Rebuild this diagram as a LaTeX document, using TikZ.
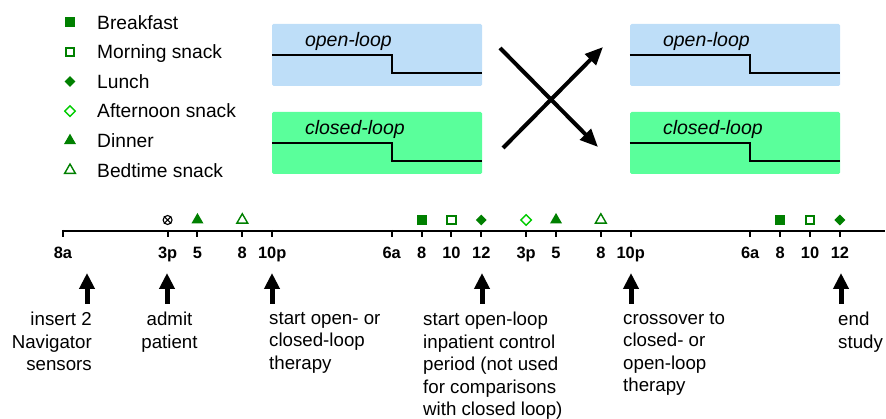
\documentclass[tikz,border=0pt]{standalone}
\usepackage{fontspec}
\setmainfont{Liberation Sans}
\usetikzlibrary{arrows.meta,positioning,shapes.geometric}
\definecolor{openblue}{RGB}{190,222,248}
\definecolor{closedgreen}{RGB}{90,255,155}
\definecolor{mealgreen}{RGB}{0,128,0}
\definecolor{snackgreen}{RGB}{0,204,0}
\tikzset{%
  % Specifications for style of nodes:
       loopbox/.style = {rectangle, rounded corners=1.5pt, minimum width=210pt,
                         minimum height=62pt, inner sep=0pt},
      openloop/.style = {loopbox, fill=openblue},
    closedloop/.style = {loopbox, fill=closedgreen},
     looplabel/.style = {anchor=west, inner sep=0pt, text height=13.8pt, text depth=0pt,
                         font=\fontsize{19.5}{22}\selectfont\itshape},
      steplevel/.style = {line width=2pt},
       legtext/.style = {anchor=west, inner sep=0pt, text height=13.7pt,
                         text depth=0pt, font=\fontsize{19.2}{22}\selectfont},
     hourlabel/.style = {inner sep=0pt, text height=11.8pt, text depth=0pt,
                         font=\fontsize{16.4}{18}\selectfont\bfseries},
      evtlabel/.style = {inner sep=0pt, font=\fontsize{18.7}{22.5}\selectfont},
  % meal markers
     breakfast/.style = {rectangle, minimum size=10pt, inner sep=0pt, fill=mealgreen},
      morningsn/.style = {rectangle, minimum size=8.5pt, inner sep=0pt,
                         draw=mealgreen, line width=2pt, fill=white},
         lunch/.style = {diamond, minimum size=11pt, inner sep=0pt, fill=mealgreen},
    afternoonsn/.style = {diamond, minimum size=11pt, inner sep=0pt,
                         draw=snackgreen, line width=1.4pt, fill=white},
        dinner/.style = {regular polygon, regular polygon sides=3, minimum size=14pt,
                         inner sep=0pt, fill=mealgreen},
      bedtimesn/.style = {regular polygon, regular polygon sides=3, minimum size=12.5pt,
                         inner sep=0pt, draw=mealgreen, line width=1.4pt, fill=white},
  crossarrow/.style = {line width=4pt, -{Triangle[width=15pt,length=18pt]}},
     uparrow/.style = {line width=5pt, -{Triangle[width=15pt,length=16pt]}},
}
\begin{document}
\begin{tikzpicture}[x=1pt, y=-1pt]
\useasboundingbox (0,0) rectangle (886,419);
% Legend of meals
\foreach \m/\t [count=\i] in {breakfast/Breakfast, morningsn/Morning snack,
    lunch/Lunch, afternoonsn/Afternoon snack, dinner/Dinner, bedtimesn/Bedtime snack}
{
  \node[\m] (leg\i) at (70,{22.3+29.6*(\i-1)}) {};
  \node[legtext] (legt\i) at (97,{22.3+29.6*(\i-1)}) {\t};
}
% Treatment periods
\node (olA) [openloop]   at (377,55)  {};
\node (clA) [closedloop] at (377,143) {};
\node (olB) [openloop]   at (735,55)  {};
\node (clB) [closedloop] at (735,143) {};
\foreach \b/\t in {olA/open-loop, clA/closed-loop, olB/open-loop, clB/closed-loop}
{
  \node[looplabel] at ([xshift=33pt,yshift=15pt]\b.west) {\t};
  \draw[steplevel] (\b.west) -- ++(120,0) -- ++(0,18) -- ++(90,0);
}
% Crossover
\coordinate (xa) at (500,48);
\coordinate (xb) at (598,147);
\coordinate (xc) at (503,148);
\coordinate (xd) at (603,47);
\draw[crossarrow] (xa) -- (xb);
\draw[crossarrow] (xc) -- (xd);
% Time line
\coordinate (t0) at (63,231);
\coordinate (tend) at (885,231);
\draw[line width=2pt] (t0) -- (tend);
\foreach \h/\t in {0/8a, 7/3p, 9/5, 12/8, 14/10p, 22/6a, 24/8, 26/10, 28/12,
    31/3p, 33/5, 36/8, 38/10p, 46/6a, 48/8, 50/10, 52/12}
{
  \draw[line width=2pt] (63+14.94*\h,230) -- ++(0,7);
  \node[hourlabel] (hr\h) at (63+14.94*\h,253) {\t};
}
% Meals on the time line
\foreach \h/\m in {9/dinner, 12/bedtimesn, 24/breakfast, 26/morningsn, 28/lunch,
    31/afternoonsn, 33/dinner, 36/bedtimesn, 48/breakfast, 50/morningsn, 52/lunch}
  \node[\m] (meal\h) at (63+14.94*\h,220) {};
% admission
\node (admit) [circle, draw, line width=1.1pt, minimum size=9pt, inner sep=0pt]
  at (167.6,220) {};
\draw[line width=1.1pt] (admit.north west) -- (admit.south east)
  (admit.north east) -- (admit.south west);
% Events
\foreach \x [count=\i] in {87,167,272,482,631,841}
{
  \coordinate (ev\i) at (\x,304);
  \draw[uparrow] (ev\i) -- ++(0,-31);
}
\node (e1) [evtlabel, align=right, anchor=north east] at (92,312)
  {insert 2\\Navigator\\sensors};
\node (e2) [evtlabel, align=center, anchor=north] at (169.5,312)
  {admit\\patient};
\node (e3) [evtlabel, align=left, anchor=north west] at (269,312)
  {start open- or\\closed-loop\\therapy};
\node (e4) [evtlabel, align=left, anchor=north west] at (423,312)
  {start open-loop\\inpatient control\\period (not used\\for comparisons\\with closed loop)};
\node (e5) [evtlabel, align=left, anchor=north west] at (623,312)
  {crossover to\\closed- or\\open-loop\\therapy};
\node (e6) [evtlabel, align=left, anchor=north west] at (838,312)
  {end\\study};
\end{tikzpicture}
\end{document}
